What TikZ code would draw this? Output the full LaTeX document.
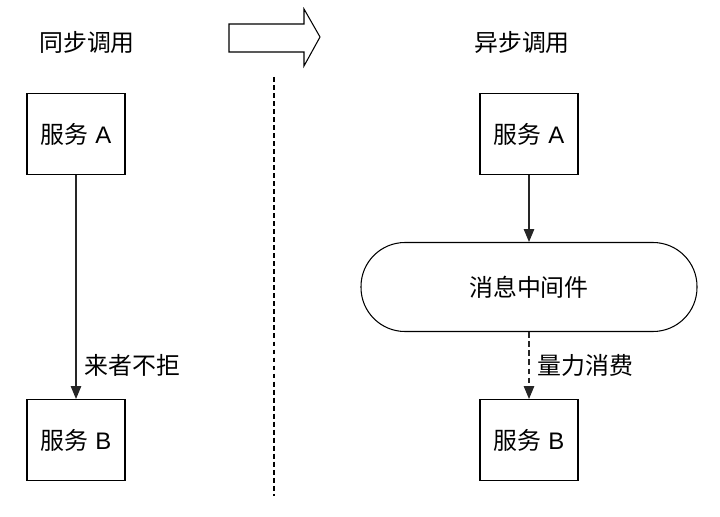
\documentclass[tikz,border=0pt]{standalone}
\usepackage{fontspec}
\setmainfont{Liberation Sans}
\newfontfamily\cjk{Noto Sans CJK SC}
\usetikzlibrary{arrows.meta,positioning}

\begin{document}
\begin{tikzpicture}[
  x=0.025cm, y=-0.025cm,
  font=\fontsize{17}{20}\selectfont,
  arrow/.style={-{Triangle[length=3.2mm, width=2.6mm]}, line width=0.75pt, draw=black!85},
  dasharrow/.style={arrow, dash pattern=on 4pt off 2.5pt},
  service/.style={draw=black, line width=0.75pt, minimum width=98*0.025cm, minimum height=81*0.025cm, inner sep=0pt},
  broker/.style={draw=black, line width=0.75pt, rounded corners=44*0.025cm, minimum width=336*0.025cm, minimum height=89*0.025cm},
  title/.style={anchor=center},
  edgelabel/.style={anchor=west, inner sep=1pt}
]
\useasboundingbox (0,0) rectangle (720,517);

% Left side: synchronous call.
\node[title] (synctitle) at (87,42) {\cjk 同步调用};
\node[service] (syncA) at (76,134) {{\cjk 服务} A};
\node[service] (syncB) at (76,440) {{\cjk 服务} B};
\draw[arrow] (syncA) -- (syncB)
  node[edgelabel, pos=0.85, right=5pt] {\cjk 来者不拒};

% Transition arrow and divider.
\draw[line width=0.75pt, line join=miter]
  (229,24) -- (304,24) -- (304,9) -- (320,37) -- (304,66) -- (304,52) -- (229,52) -- cycle;
\draw[line width=1.6pt, dash pattern=on 3.5pt off 2.2pt] (274,77) -- (274,496);

% Right side: asynchronous call via message middleware.
\node[title] (asynctitle) at (522,42) {\cjk 异步调用};
\node[service] (asyncA) at (529,134) {{\cjk 服务} A};
\node[broker] (mq) at (529,287) {\cjk 消息中间件};
\node[service] (asyncB) at (529,440) {{\cjk 服务} B};
\draw[arrow] (asyncA) -- (mq);
\draw[dasharrow] (mq) -- (asyncB)
  node[edgelabel, midway, right=5pt] {\cjk 量力消费};

\end{tikzpicture}
\end{document}
